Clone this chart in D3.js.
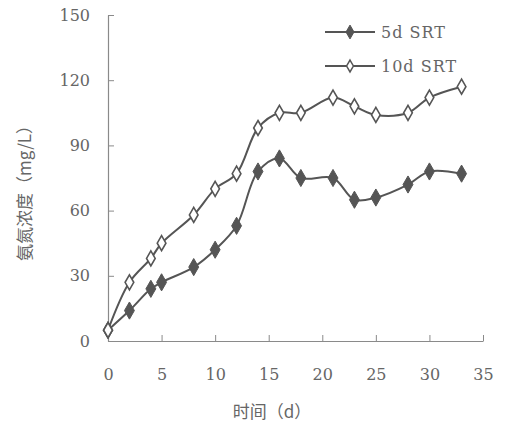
<!DOCTYPE html>
<html>
<head>
<meta charset="utf-8">
<script src="https://cdn.jsdelivr.net/npm/d3@7"></script>
<style>
  body { margin: 0; background: #fff; }
  text { font-family: "Noto Sans CJK SC", sans-serif; fill: #666; }
</style>
</head>
<body>
<div class="chart"></div>
<script>
// data
const days = [0, 2, 4, 5, 8, 10, 12, 14, 16, 18, 21, 23, 25, 28, 30, 33]
const srt5 = [5, 14, 24, 27, 34, 42, 53, 78, 84, 75, 75, 65, 66, 72, 78, 77]
const srt10 = [5, 27, 38, 45, 58, 70, 77, 98, 105, 105, 112, 108, 104, 105, 112, 117]
const xTicks = [0, 5, 10, 15, 20, 25, 30, 35]
const yTicks = [0, 30, 60, 90, 120, 150]
const seriesNames = ["5d SRT", "10d SRT"]

const w = 508
const h = 428
const serif = '"DejaVu Serif", serif'

const svg = d3.select(".chart")
  .append("svg")
    .attr("width", w)
    .attr("height", h)

const x = d3.scaleLinear().domain([0, 35]).range([108, 483])
const y = d3.scaleLinear().domain([0, 150]).range([341, 15])

const lineColor = "#555"
const axisColor = "#8a8a8a"

// axes
const xAxis = svg.append("g")
  .attr("transform", `translate(0,${y(0)})`)
  .call(d3.axisBottom(x).tickValues(xTicks).tickSizeInner(-6).tickSizeOuter(0).tickPadding(28))
const yAxis = svg.append("g")
  .attr("transform", `translate(${x(0)},0)`)
  .call(d3.axisLeft(y).tickValues(yTicks).tickSizeInner(-6).tickSizeOuter(0).tickPadding(18))

for (const ax of [xAxis, yAxis]) {
  ax.attr("font-family", null)
  ax.select(".domain").attr("stroke", axisColor).attr("stroke-width", 1.2)
  ax.selectAll(".tick line").attr("stroke", axisColor)
  ax.selectAll(".tick text").attr("fill", "#666")
    .style("font-size", "16px")
    .style("font-family", serif)
}
// no tick mark at x = 0 (it sits on the y axis)
xAxis.selectAll(".tick").filter(d => d === 0).select("line").remove()

// axis titles
svg.append("text")
  .attr("x", 272).attr("y", 418)
  .attr("text-anchor", "middle")
  .style("font-size", "17px")
  .text("时间（d）")

svg.append("text")
  .attr("transform", "translate(31,189) rotate(-90)")
  .attr("text-anchor", "middle")
  .style("font-size", "17px")
  .text("氨氮浓度（mg/L）")

// lines
const line = d3.line()
  .x(d => x(d[0]))
  .y(d => y(d[1]))
  .curve(d3.curveCatmullRom.alpha(0.5))

const series = [
  { name: seriesNames[0], values: days.map((d, i) => [d, srt5[i]]), filled: true },
  { name: seriesNames[1], values: days.map((d, i) => [d, srt10[i]]), filled: false }
]

const diamond = d3.symbol().type(d3.symbolDiamond)

series.forEach(s => {
  svg.append("path")
    .datum(s.values)
    .attr("d", line)
    .attr("fill", "none")
    .attr("stroke", lineColor)
    .attr("stroke-width", 2)

  svg.append("g")
    .selectAll("path")
    .data(s.values)
    .join("path")
      .attr("transform", d => `translate(${x(d[0])},${y(d[1])})`)
      .attr("d", diamond.size(s.filled ? 85 : 65)())
      .attr("fill", s.filled ? lineColor : "#fff")
      .attr("stroke", lineColor)
      .attr("stroke-width", s.filled ? 1 : 1.6)
})

// legend
const legend = svg.append("g")
legend.selectAll("g")
  .data(series)
  .join("g")
    .attr("transform", (d, i) => `translate(325,${32 + i * 34})`)
    .each(function(d) {
      const g = d3.select(this)
      g.append("line").attr("x1", 0).attr("x2", 50)
        .attr("stroke", lineColor).attr("stroke-width", 2)
      g.append("path")
        .attr("transform", "translate(25,0)")
        .attr("d", diamond.size(d.filled ? 55 : 40)())
        .attr("fill", d.filled ? lineColor : "#fff")
        .attr("stroke", lineColor)
        .attr("stroke-width", d.filled ? 1 : 1.5)
      g.append("text")
        .attr("x", 56).attr("y", 6)
        .style("font-size", "16px")
        .style("font-family", serif)
        .style("letter-spacing", "1px")
        .text(d.name)
    })
</script>
</body>
</html>
